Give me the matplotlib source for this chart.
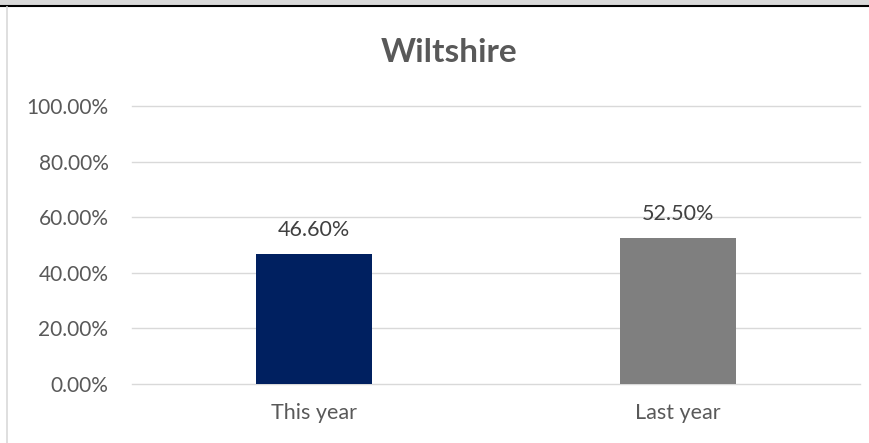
import matplotlib.pyplot as plt
from matplotlib.patches import Rectangle
from matplotlib.lines import Line2D

categories = ['This year', 'Last year']
values = [46.6, 52.5]
bar_colors = ['#002060', '#7f7f7f']
y_ticks = [0, 20, 40, 60, 80, 100]

plt.rcParams['font.family'] = ['Lato', 'DejaVu Sans']

W, H = 870, 443
fig = plt.figure(figsize=(W / 100, H / 100), dpi=100)
ax = fig.add_axes([132 / W, 1 - 384 / H, 728 / W, 278 / H])

x = range(len(categories))
ax.bar(x, values, width=0.316, color=bar_colors, zorder=3)
for xi, v in zip(x, values):
    ax.text(xi, v + 5.2, f'{v:.2f}%', ha='center', va='bottom',
            fontsize=15.5, color='#404040')

ax.set_xlim(-0.5, 1.5)
ax.set_ylim(0, 100)
ax.set_yticks(y_ticks)
ax.set_yticklabels([f'{t:.2f}%' for t in y_ticks])
ax.set_xticks(list(x))
ax.set_xticklabels(categories)
ax.tick_params(axis='both', length=0, labelsize=15, colors='#595959')
ax.tick_params(axis='x', labelsize=15.5, pad=14)
ax.tick_params(axis='y', pad=17)
ax.grid(axis='y', color='#d9d9d9', linewidth=1, zorder=0)
for gl in ax.get_ygridlines():
    gl.set_clip_on(False)
for s in ax.spines.values():
    s.set_visible(False)

fig.text(449 / W, 1 - 53 / H, 'Wiltshire', ha='center', va='center',
         fontsize=24, fontweight='bold', color='#595959')

# frame bits along the top and left edges
fig.add_artist(Rectangle((0, 1 - 5 / H), 1, 5 / H, transform=fig.transFigure,
                         color='#d9d9d9', lw=0))
fig.add_artist(Line2D([0, 1], [1 - 6 / H, 1 - 6 / H], transform=fig.transFigure,
                      color='black', lw=1.5))
fig.add_artist(Line2D([7.5 / W, 7.5 / W], [0, 1 - 7 / H], transform=fig.transFigure,
                      color='#d9d9d9', lw=1.2))

fig.savefig('out.png', dpi=100)
